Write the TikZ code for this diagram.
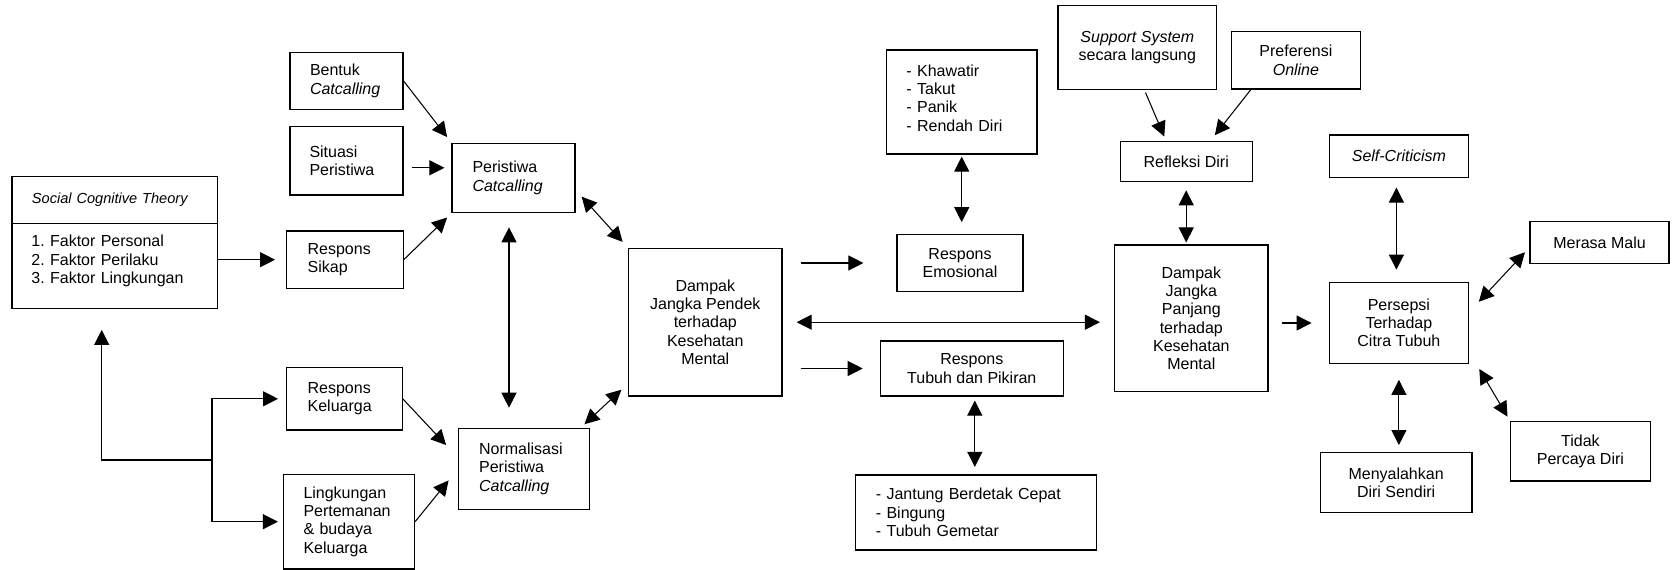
\documentclass[tikz,border=0pt]{standalone}
\usepackage{fontspec}
\setmainfont{Liberation Sans}
\usetikzlibrary{arrows.meta}
\tikzset{box/.style={draw,line width=0.7pt,inner sep=0pt},
  lbox/.style={box,align=left},
  cbox/.style={box,align=center}}

\begin{document}
\begin{tikzpicture}[x=0.02cm,y=-0.02cm,line width=0.6pt,>={Triangle[length=0.3cm,width=0.3cm]},
    font=\fontsize{9.1}{10.4}\selectfont\frenchspacing]
        \useasboundingbox (0,0) rectangle (1675,570);

        \node[lbox,minimum width=4.11cm,minimum height=0.93cm,text width=3.31cm,font=\fontsize{8.3}{10}\selectfont\itshape] (scttitle) at (114.7,200) {Social Cognitive Theory};
        \node[lbox,minimum width=4.11cm,minimum height=1.70cm,text width=3.33cm] (sctlist) at (114.7,265.8) {1. Faktor Personal\\2. Faktor Perilaku\\3. Faktor Lingkungan\\[-3pt]\mbox{}};

        \node[lbox,minimum width=2.26cm,minimum height=1.13cm,text width=1.46cm] (bentuk) at (346.5,81) {Bentuk\\\textit{Catcalling}};
        \node[lbox,minimum width=2.26cm,minimum height=1.37cm,text width=1.48cm] (situasi) at (346.5,160.8) {Situasi\\Peristiwa};
        \node[lbox,minimum width=2.33cm,minimum height=1.15cm,text width=1.49cm] (sikap) at (344.9,259.7) {Respons\\Sikap};
        \node[lbox,minimum width=2.46cm,minimum height=1.39cm,text width=1.64cm] (peristiwa) at (513.5,178) {Peristiwa\\\textit{Catcalling}};
        \node[lbox,minimum width=2.31cm,minimum height=1.25cm,text width=1.47cm] (keluarga) at (344.4,398.8) {Respons\\Keluarga};
        \node[lbox,minimum width=2.62cm,minimum height=1.89cm,text width=1.82cm] (lingkungan) at (349,521.7) {Lingkungan\\Pertemanan\\\& budaya\\Keluarga};
        \node[lbox,minimum width=2.61cm,minimum height=1.62cm,text width=1.79cm] (normalisasi) at (523.9,468.8) {Normalisasi\\Peristiwa\\\textit{Catcalling}};

        \node[cbox,minimum width=3.07cm,minimum height=2.95cm] (dampakpendek) at (705.3,322.2) {Dampak\\Jangka Pendek\\terhadap\\Kesehatan\\Mental};
        \node[lbox,minimum width=3.01cm,minimum height=2.08cm,text width=2.21cm] (khawatir) at (961.7,102) {- Khawatir\\- Takut\\- Panik\\- Rendah Diri\\[-5.8pt]\mbox{}};
        \node[cbox,minimum width=2.52cm,minimum height=1.15cm] (emosional) at (960,263) {Respons\\Emosional};
        \node[cbox,minimum width=3.66cm,minimum height=1.10cm] (tubuh) at (971.8,368.5) {Respons\\Tubuh dan Pikiran};
        \node[lbox,minimum width=4.82cm,minimum height=1.50cm,text width=4.0cm] (jantung) at (975.9,512.5) {- Jantung Berdetak Cepat\\- Bingung\\- Tubuh Gemetar};

        \node[cbox,minimum width=3.17cm,minimum height=1.67cm] (support) at (1137.3,47.4) {\textit{Support System}\\secara langsung};
        \node[cbox,minimum width=2.58cm,minimum height=1.15cm] (preferensi) at (1295.9,60.3) {Preferensi\\\textit{Online}};
        \node[cbox,minimum width=2.64cm,minimum height=0.80cm] (refleksi) at (1186.2,161.7) {Refleksi Diri};
        \node[cbox,minimum width=3.07cm,minimum height=2.93cm] (panjang) at (1191.3,318.3) {Dampak\\Jangka\\Panjang\\terhadap\\Kesehatan\\Mental};
        \node[cbox,minimum width=2.79cm,minimum height=0.85cm] (selfcrit) at (1398.9,156.2) {\textit{Self-Criticism}};
        \node[cbox,minimum width=2.79cm,minimum height=1.61cm] (persepsi) at (1398.9,323) {Persepsi\\Terhadap\\Citra Tubuh};
        \node[cbox,minimum width=2.78cm,minimum height=0.83cm] (merasa) at (1599.5,242.5) {Merasa Malu};
        \node[cbox,minimum width=3.04cm,minimum height=1.20cm] (menyalahkan) at (1396.1,482.7) {Menyalahkan\\Diri Sendiri};
        \node[cbox,minimum width=2.79cm,minimum height=1.19cm] (tidak) at (1580.4,451.3) {Tidak\\Percaya Diri};

        \draw [->,shorten >=0.22cm] (sctlist.east |- sikap.west) -- (sikap.west);
        \draw [->,shorten >=0.14cm] (bentuk.east) -- (peristiwa.north west);
        \draw [->,shorten <=0.16cm,shorten >=0.14cm] ([yshift=-0.14cm]situasi.east) -- ([yshift=-0.14cm]situasi.east -| peristiwa.west);
        \draw [->,shorten >=0.12cm] (sikap.east) -- (peristiwa.south west);
        \draw [<->,shorten <=0.28cm,shorten >=0.4cm] ([xshift=-0.09cm]peristiwa.south) -- ([xshift=-0.09cm]peristiwa.south |- normalisasi.north);
        \draw [->,shorten >=0.35cm] (keluarga.east) -- ([yshift=0.22cm]normalisasi.west);
        \draw [->,shorten >=0.3cm] (lingkungan.east) -- (normalisasi.west);

        \coordinate (fork) at (212,460);
        \draw [->,shorten >=0.42cm] (fork) -| ([xshift=-0.26cm]sctlist.south);
        \draw [->,shorten >=0.16cm] (fork) |- (keluarga.west);
        \draw [->,shorten >=0.1cm] (fork) |- (lingkungan.west);

        \draw [<->,shorten <=0.18cm,shorten >=0.16cm] ([yshift=-0.24cm]peristiwa.east) -- (dampakpendek.north west);
        \draw [<->,shorten <=0.1cm,shorten >=0.18cm] ([xshift=-0.18cm]normalisasi.north east) -- ([yshift=0.26cm]dampakpendek.south west);
        \draw [->,shorten <=0.36cm,shorten >=0.66cm] (dampakpendek.east |- emosional.west) -- (emosional.west);
        \draw [->,shorten <=0.36cm,shorten >=0.34cm] (dampakpendek.east |- tubuh.west) -- (tubuh.west);
        \draw [<->,shorten <=0.28cm,shorten >=0.28cm] (dampakpendek.east) -- (dampakpendek.east -| panjang.west);
        \draw [<->,shorten <=0.04cm,shorten >=0.23cm] (khawatir.south) -- (khawatir.south |- emosional.north);
        \draw [<->,shorten <=0.08cm,shorten >=0.15cm] ([xshift=0.06cm]tubuh.south) -- ([xshift=0.06cm]tubuh.south |- jantung.north);

        \draw [->,shorten <=0.06cm,shorten >=0.1cm] ([xshift=0.14cm]support.south) -- ([xshift=-0.4cm]refleksi.north);
        \draw [->,shorten >=0.15cm] ([xshift=0.4cm]preferensi.south west) -- ([xshift=0.48cm]refleksi.north);
        \draw [<->,shorten <=0.16cm,shorten >=0.04cm] (refleksi.south) -- (refleksi.south |- panjang.north);
        \draw [->,shorten <=0.27cm,shorten >=0.34cm] (panjang.east |- persepsi.west) -- (persepsi.west);
        \draw [<->,shorten <=0.19cm,shorten >=0.25cm] ([xshift=-0.05cm]selfcrit.south) -- ([xshift=-0.05cm]selfcrit.south |- persepsi.north);
        \draw [<->,shorten <=0.28cm,shorten >=0.13cm] ([yshift=0.22cm]persepsi.east) -- ([yshift=-0.1cm]merasa.west);
        \draw [<->,shorten <=0.32cm,shorten >=0.14cm] (persepsi.south) -- (persepsi.south |- menyalahkan.north);
        \draw [<->,shorten <=0.12cm,shorten >=0.1cm] ([xshift=0.14cm]persepsi.south east) -- (tidak.north west);
\end{tikzpicture}
\end{document}
